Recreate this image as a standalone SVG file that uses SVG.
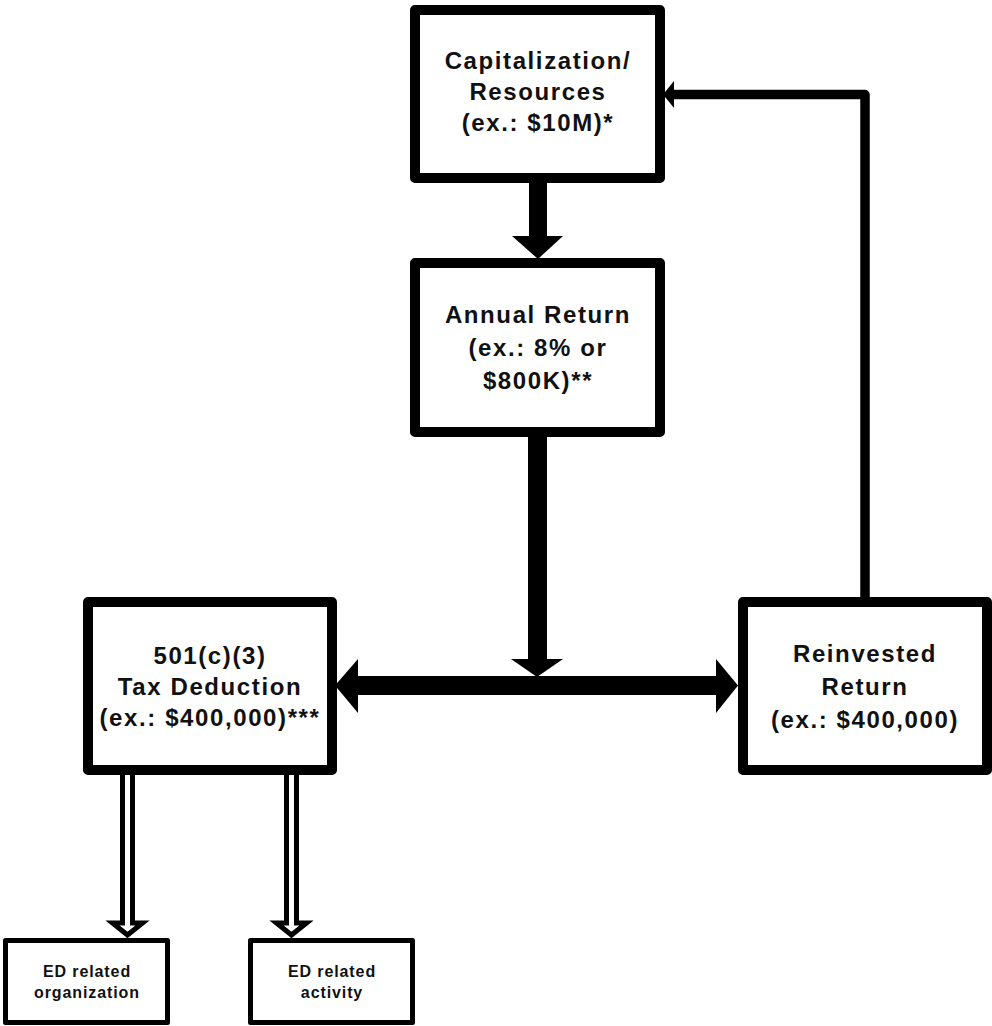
<svg xmlns="http://www.w3.org/2000/svg" width="992" height="1026" viewBox="0 0 992 1026">
<style>
.box{fill:#fff;stroke:#000;stroke-width:10;stroke-linejoin:round}
.sbox{fill:#fff;stroke:#000;stroke-width:5;stroke-linejoin:round}
.t{font-family:"Liberation Sans",Arial,sans-serif;font-weight:bold;font-size:24px;letter-spacing:1.6px;text-anchor:middle;fill:#111}
.st{font-family:"Liberation Sans",Arial,sans-serif;font-weight:bold;font-size:16px;letter-spacing:0.9px;text-anchor:middle;fill:#111}
.solid{fill:#000}
.hollow{fill:#fff;stroke:#000;stroke-width:5;stroke-linejoin:miter}
</style>
<rect width="992" height="1026" fill="#fff"/>
<g id="connectors">
  <rect class="solid" x="529" y="180" width="18" height="57"/>
  <polygon class="solid" points="512,236 563,236 538,259"/>
  <rect class="solid" x="528" y="434" width="19" height="226"/>
  <polygon class="solid" points="511,659 563,659 537,677"/>
  <rect class="solid" x="357" y="676" width="360" height="19"/>
  <polygon class="solid" points="335,685.5 358,659 358,713"/>
  <polygon class="solid" points="738,685.5 716,659 716,713"/>
  <polyline points="865,600 865,94.5 673,94.5" fill="none" stroke="#000" stroke-width="9.5" stroke-linejoin="round"/>
  <polygon class="solid" points="663,94.5 674,81 674,108"/>
  <path class="hollow" d="M122.5,772 V923 H112.5 L127.5,935 L142.5,923 H132.5 V772"/>
  <path class="hollow" d="M286.5,772 V923 H276.5 L291.5,935 L306.5,923 H296.5 V772"/>
</g>
<g id="capitalization">
  <rect class="box" x="415" y="10" width="245" height="168"/>
  <text class="t" x="538" y="69">Capitalization/</text>
  <text class="t" x="538" y="100">Resources</text>
  <text class="t" x="538" y="131">(ex.: $10M)*</text>
</g>
<g id="annual-return">
  <rect class="box" x="415" y="263" width="245" height="169"/>
  <text class="t" x="538" y="323">Annual Return</text>
  <text class="t" x="538" y="356">(ex.: 8% or</text>
  <text class="t" x="538" y="389">$800K)**</text>
</g>
<g id="tax-deduction">
  <rect class="box" x="88" y="602" width="244" height="168"/>
  <text class="t" x="210" y="664">501(c)(3)</text>
  <text class="t" x="210" y="695">Tax Deduction</text>
  <text class="t" x="210" y="726">(ex.: $400,000)***</text>
</g>
<g id="reinvested-return">
  <rect class="box" x="743" y="602" width="244" height="168"/>
  <text class="t" x="865" y="662">Reinvested</text>
  <text class="t" x="865" y="695">Return</text>
  <text class="t" x="865" y="728">(ex.: $400,000)</text>
</g>
<g id="ed-organization">
  <rect class="sbox" x="5.5" y="940.5" width="162" height="82"/>
  <text class="st" x="87" y="977">ED related</text>
  <text class="st" x="87" y="998">organization</text>
</g>
<g id="ed-activity">
  <rect class="sbox" x="250.5" y="940.5" width="162" height="82"/>
  <text class="st" x="332" y="977">ED related</text>
  <text class="st" x="332" y="998">activity</text>
</g>
</svg>
